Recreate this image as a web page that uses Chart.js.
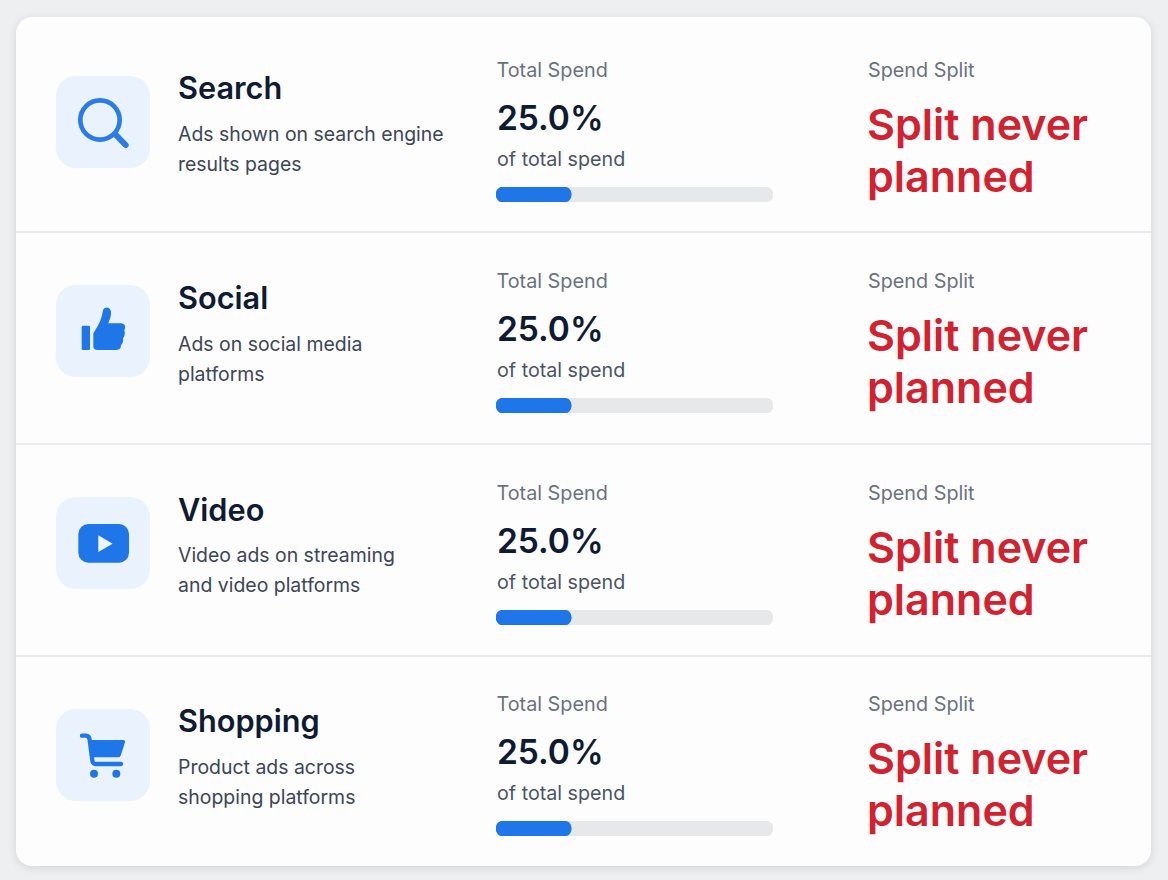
<!DOCTYPE html>
<html>
<head>
<meta charset="utf-8">
<script src="https://cdn.jsdelivr.net/npm/chart.js@4"></script>
<style>
html, body { margin: 0; padding: 0; }
body { width: 1168px; height: 880px; overflow: hidden; background: #eeeff1; font-family: Inter, sans-serif; position: relative; }
#card { position: absolute; left: 16px; top: 17px; width: 1135px; height: 849px; background: #fdfdfe; border-radius: 16px; box-shadow: 0 2px 8px rgba(30,40,60,.13); }
.abs { position: absolute; white-space: nowrap; }
.sep { position: absolute; left: 16px; width: 1135px; height: 2px; background: #e8eaed; }
.tile { position: absolute; left: 56px; width: 94px; height: 92px; background: #eaf2fd; border-radius: 20px; }
.tile svg { display: block; width: 94px; height: 92px; }
.title { left: 178px; font-size: 30.7px; line-height: 40px; font-weight: 600; color: #0f1a33; }
.desc { left: 178px; font-size: 19.45px; line-height: 30px; color: #3c4657; }
.label { font-size: 19.8px; line-height: 26px; color: #6b7280; }
.pct { left: 497px; font-size: 33.5px; line-height: 44px; font-weight: 600; color: #0f1a33; }
.sub { left: 497px; font-size: 19.7px; line-height: 26px; color: #4b5563; }
.verdict { left: 867px; font-size: 43px; line-height: 52px; font-weight: 600; color: #d3222f; }
.bar { position: absolute; left: 496px; width: 277px; height: 15px; }
.bar canvas { display: block; }
</style>
</head>
<body>
<div id="card"></div>
<script>
const categories = ['Search', 'Social', 'Video', 'Shopping'];
const descriptions = [
  ['Ads shown on search engine', 'results pages'],
  ['Ads on social media', 'platforms'],
  ['Video ads on streaming', 'and video platforms'],
  ['Product ads across', 'shopping platforms']
];
const spendShare = [25, 25, 25, 25];
const trackValues = [100, 100, 100, 100];
const splitText = ['Split never', 'planned'];

// row offsets, left column sits a touch higher
const titleTops = [0, 210, 422, 633];
const descTops = [0, 210, 421, 633];
const rightTops = [0, 211, 423, 634];
const tileTops = [76, 285, 497, 709];
const sepTops = [231, 443, 655];

const icons = [
  '<svg viewBox="168 228 282 276"><circle cx="300" cy="360" r="59" fill="none" stroke="#2a7de9" stroke-width="14"/><path d="M345 402 L377 435" stroke="#2a7de9" stroke-width="18" stroke-linecap="round"/></svg>',
  '<svg viewBox="48 45 282 276"><rect x="125" y="167" width="25" height="73" rx="4" fill="#1f76e8"/><path d="M160 190 C172 170 184 152 188 125 C190 108 212 108 213 126 C214 140 208 150 205 160 L243 160 C256 160 258 172 253 180 C256 190 254 200 249 205 C251 215 247 222 243 226 C243 235 238 240 230 240 L172 240 C165 240 160 236 160 230 Z" fill="#1f76e8"/></svg>',
  '<svg viewBox="48 50 282 276"><rect x="115" y="131" width="152" height="116" rx="30" fill="#1f76e8"/><path d="M175 165 L218 190 L175 215 Z" fill="#eef4fd"/></svg>',
  '<svg viewBox="48 41 282 276"><path d="M126 121 L138 121 C146 121 148 126 149 134 L157 195 C158 203 160 206 168 206 L243 206" fill="none" stroke="#1f76e8" stroke-width="13" stroke-linecap="round"/><path d="M148 134 L250 134 C254 134 256 137 255 141 L243 178 C242 183 239 186 234 186 L158 186 Z" fill="#1f76e8"/><circle cx="162" cy="235" r="12" fill="#1f76e8"/><circle cx="229" cy="235" r="12" fill="#1f76e8"/></svg>'
];

function addText(cls, top, text) {
  const el = document.createElement('div');
  el.className = 'abs ' + cls;
  el.style.top = top + 'px';
  el.textContent = text;
  document.body.appendChild(el);
  return el;
}

sepTops.forEach(y => {
  const s = document.createElement('div');
  s.className = 'sep';
  s.style.top = y + 'px';
  document.body.appendChild(s);
});

categories.forEach((name, i) => {
  const tile = document.createElement('div');
  tile.className = 'tile';
  tile.style.top = tileTops[i] + 'px';
  tile.innerHTML = icons[i];
  document.body.appendChild(tile);

  const r = rightTops[i];
  addText('title', 68 + titleTops[i], name);
  addText('desc', 119 + descTops[i], descriptions[i][0]);
  addText('desc', 149 + descTops[i], descriptions[i][1]);

  addText('label', 57 + r, 'Total Spend').style.left = '496.5px';
  addText('pct', 96 + r, spendShare[i].toFixed(1) + '%');
  addText('sub', 146 + r, 'of total spend');
  addText('label', 57 + r, 'Spend Split').style.left = '868px';
  addText('verdict', 98 + r, splitText[0]);
  addText('verdict', 150 + r, splitText[1]);

  const box = document.createElement('div');
  box.className = 'bar';
  box.style.top = (187 + r) + 'px';
  const canvas = document.createElement('canvas');
  canvas.width = 277;
  canvas.height = 15;
  box.appendChild(canvas);
  document.body.appendChild(box);

  new Chart(canvas.getContext('2d'), {
    type: 'bar',
    data: {
      labels: [name],
      datasets: [
        { data: [spendShare[i]], backgroundColor: '#1f76e8', order: 0, base: -3 },
        { data: [trackValues[i]], backgroundColor: '#e7e8ea', order: 1, base: -3 }
      ]
    },
    options: {
      indexAxis: 'y',
      responsive: false,
      animation: false,
      layout: { padding: 0 },
      datasets: { bar: { grouped: false, barThickness: 15, borderRadius: 7.5, borderSkipped: false } },
      plugins: { legend: { display: false }, tooltip: { enabled: false } },
      scales: {
        // the rounded cap starts ahead of zero, so the axis does too
        x: { display: false, min: -3, max: 100 },
        y: { display: false }
      }
    }
  });
});
</script>
</body>
</html>
